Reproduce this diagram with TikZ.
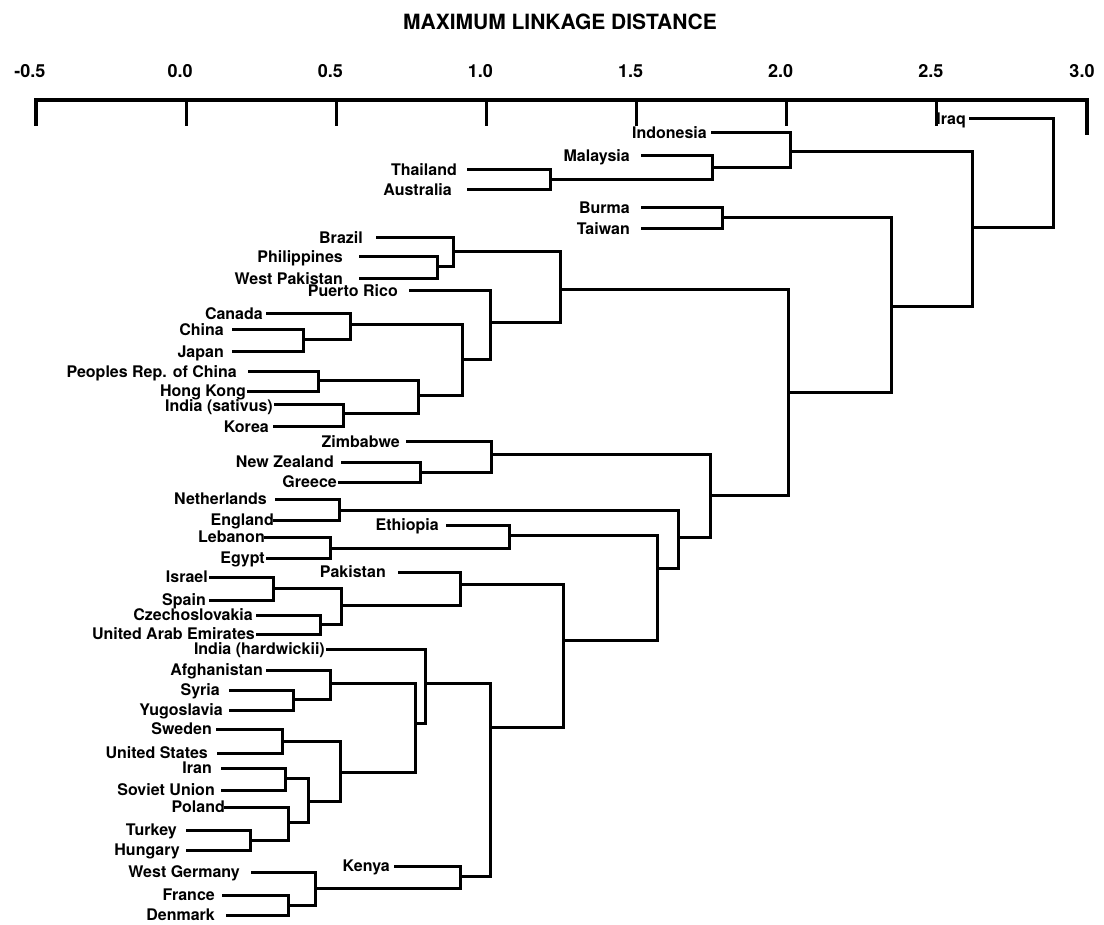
\documentclass[tikz,border=0pt]{standalone}
\usepackage{fontspec}
\setmainfont{TeX Gyre Heros}
\tikzset{
  dline/.style={line width=3pt, line cap=rect, black},
  axline/.style={line width=3.2pt, line cap=rect, black},
  leaflab/.style={inner sep=0pt, anchor=base east, font=\fontsize{16}{18}\selectfont\bfseries},
  ticklab/.style={inner sep=0pt, anchor=base, font=\fontsize{18}{20}\selectfont\bfseries},
  titlelab/.style={inner sep=0pt, anchor=base, font=\fontsize{21}{24}\selectfont\bfseries}
}
% [#1 text y offset], #2 name, #3 text, #4 text right x, #5 line start x, #6 y, #7 line end x
\newcommand\dleaf[7][0]{%
  \node[leaflab] (#2) at (#4,#6+5.8+#1) {#3};
  \coordinate (#2s) at (#5,#6);
  \coordinate (#2e) at (#7,#6);
  \draw[dline] (#2s) -- (#2e);
}
% #1 name, #2 x, #3 y top, #4 y bottom, #5 out y, #6 next x
\newcommand\dmerge[6]{%
  \coordinate (#1t) at (#2,#3);
  \coordinate (#1b) at (#2,#4);
  \coordinate (#1o) at (#2,#5);
  \coordinate (#1n) at (#6,#5);
  \draw[dline] (#1t) -- (#1b);
  \draw[dline] (#1o) -- (#1n);
}
\begin{document}
\begin{tikzpicture}[x=1pt,y=-1pt]
\useasboundingbox (0,0) rectangle (1104,925);
% title
\node[titlelab] (title) at (560,29.5) {MAXIMUM LINKAGE DISTANCE};
% axis
\coordinate (axL) at (36,100);
\coordinate (axR) at (1087,100);
\draw[axline] (axL) -- (axR);
\foreach \i/\lab in {0/-0.5,1/0.0,2/0.5,3/1.0,4/1.5,5/2.0,6/2.5}{
  \coordinate (tk\i) at (36+150.14*\i,100);
  \coordinate (tb\i) at (36+150.14*\i,124);
  \draw[axline] (tk\i) -- (tb\i);
  \node[ticklab] (tl\i) at (30+150.14*\i,77.5) {\lab};
}
\coordinate (tk7) at (1087,100);
\coordinate (tb7) at (1087,133);
\draw[axline] (tk7) -- (tb7);
\node[ticklab] (tl7) at (1082,77.5) {3.0};
% leaves
\dleaf{iraq}{Iraq}{966}{970}{119}{1053}
\dleaf{indo}{Indonesia}{707}{712}{133}{790}
\dleaf{mala}{Malaysia}{630}{642}{156}{712}
\dleaf{thai}{Thailand}{457}{468}{170}{550}
\dleaf{aust}{Australia}{452}{468}{190}{550}
\dleaf{burm}{Burma}{630}{642}{208}{722}
\dleaf{taiw}{Taiwan}{630}{642}{229}{722}
\dleaf{braz}{Brazil}{363}{377}{238}{453}
\dleaf{phil}{Philippines}{343}{360}{257}{437}
\dleaf{wpak}{West Pakistan}{343}{360}{279}{437}
\dleaf{puer}{Puerto Rico}{398}{410}{291}{490}
\dleaf{cana}{Canada}{263}{267}{314}{350}
\dleaf{chin}{China}{224}{233}{330}{303}
\dleaf{japa}{Japan}{224}{233}{352}{303}
\dleaf{prc}{Peoples Rep. of China}{237}{249}{372}{318}
\dleaf[-1.5]{hong}{Hong Kong}{246}{248}{392}{318}
\dleaf[1.2]{isat}{India (sativus)}{273}{275}{405}{343}
\dleaf{kore}{Korea}{269}{274}{427}{343}
\dleaf{zimb}{Zimbabwe}{400}{407}{442}{491}
\dleaf{newz}{New Zealand}{334}{342}{462}{420}
\dleaf{gree}{Greece}{337}{339}{482}{420}
\dleaf{neth}{Netherlands}{267}{276}{499}{339}
\dleaf{engl}{England}{274}{274}{520}{339}
\dleaf{ethi}{Ethiopia}{439}{447}{525}{509}
\dleaf{leba}{Lebanon}{265}{265}{537}{330}
\dleaf{egyp}{Egypt}{265}{267}{558}{330}
\dleaf{paki}{Pakistan}{386}{399}{572}{460}
\dleaf{isra}{Israel}{208}{210}{577}{273}
\dleaf{spai}{Spain}{206}{210}{600}{273}
\dleaf{czec}{Czechoslovakia}{253}{257}{615}{320}
\dleaf{uae}{United Arab Emirates}{255}{257}{634}{320}
\dleaf{ihar}{India (hardwickii)}{325}{327}{649}{425}
\dleaf{afgh}{Afghanistan}{263}{267}{670}{330}
\dleaf{syri}{Syria}{220}{230}{690}{293}
\dleaf{yugo}{Yugoslavia}{223}{230}{710}{293}
\dleaf{swed}{Sweden}{212}{217}{729}{282}
\dleaf{usa}{United States}{208}{218}{753}{282}
\dleaf{iran}{Iran}{212}{222}{768}{285}
\dleaf{sovi}{Soviet Union}{215}{222}{790}{285}
\dleaf{pola}{Poland}{225}{225}{807}{288}
\dleaf{turk}{Turkey}{177}{187}{830}{250}
\dleaf{hung}{Hungary}{180}{187}{850}{250}
\dleaf{keny}{Kenya}{390}{395}{866}{460}
\dleaf{wger}{West Germany}{240}{252}{872}{315}
\dleaf{fran}{France}{215}{223}{895}{288}
\dleaf{denm}{Denmark}{215}{227}{915}{288}
% merges
\dmerge{mTA}{550}{170}{190}{180}{712}
\dmerge{mM}{712}{156}{180}{168}{790}
\dmerge{mI}{790}{133}{168}{152}{972}
\dmerge{mBT}{722}{208}{229}{218}{891}
\dmerge{mPW}{437}{257}{279}{267}{453}
\dmerge{mBr}{453}{238}{267}{252}{560}
\dmerge{mCJ}{303}{330}{352}{340}{350}
\dmerge{mCa}{350}{314}{340}{325}{462}
\dmerge{mPH}{318}{372}{392}{381}{418}
\dmerge{mIK}{343}{405}{427}{414}{418}
\dmerge{mA4}{418}{381}{414}{396}{462}
\dmerge{mA5}{462}{325}{396}{360}{490}
\dmerge{mPR}{490}{291}{360}{323}{560}
\dmerge{mA6}{560}{252}{323}{290}{788}
\dmerge{mNG}{420}{462}{482}{472}{491}
\dmerge{mZi}{491}{442}{472}{455}{710}
\dmerge{mNE}{339}{499}{520}{510}{678}
\dmerge{mLE}{330}{537}{558}{548}{509}
\dmerge{mEt}{509}{525}{548}{535}{657}
\dmerge{mIS}{273}{577}{600}{588}{341}
\dmerge{mCU}{320}{615}{634}{624}{341}
\dmerge{mB1}{341}{588}{624}{605}{460}
\dmerge{mPk}{460}{572}{605}{584}{563}
\dmerge{mSY}{293}{690}{710}{699}{330}
\dmerge{mAf}{330}{670}{699}{683}{415}
\dmerge{mSU}{282}{729}{753}{741}{340}
\dmerge{mIr}{285}{768}{790}{778}{308}
\dmerge{mTH}{250}{830}{850}{840}{288}
\dmerge{mPo}{288}{807}{840}{822}{308}
\dmerge{mB2}{308}{778}{822}{801}{340}
\dmerge{mB3}{340}{741}{801}{772}{415}
\dmerge{mB4}{415}{683}{772}{723}{425}
\dmerge{mIH}{425}{649}{723}{683}{490}
\dmerge{mFD}{288}{895}{915}{905}{315}
\dmerge{mWG}{315}{872}{905}{888}{460}
\dmerge{mKe}{460}{866}{888}{876}{490}
\dmerge{mB5}{490}{683}{876}{727}{563}
\dmerge{mB6}{563}{584}{727}{640}{657}
\dmerge{mB7}{657}{535}{640}{568}{678}
\dmerge{mB8}{678}{510}{568}{537}{710}
\dmerge{mB9}{710}{455}{537}{495}{788}
\dmerge{mC1}{788}{290}{495}{393}{891}
\dmerge{mC2}{891}{218}{393}{307}{972}
\dmerge{mC3}{972}{152}{307}{228}{1053}
\coordinate (rootT) at (1053,119);
\coordinate (rootB) at (1053,228);
\draw[dline] (rootT) -- (rootB);
\end{tikzpicture}
\end{document}
